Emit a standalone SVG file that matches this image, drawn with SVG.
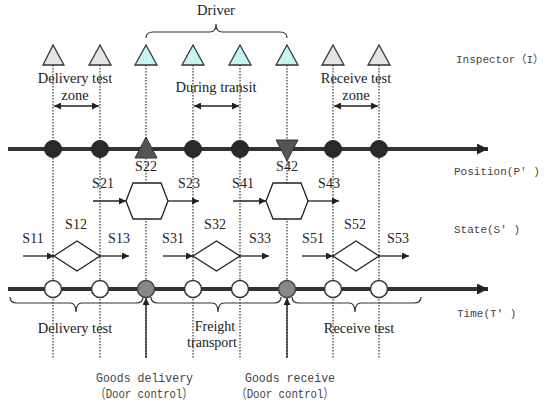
<svg xmlns="http://www.w3.org/2000/svg" width="550" height="408" viewBox="0 0 550 408">
<defs>
<style>
.ser{font-family:"Liberation Serif","Times New Roman",serif;font-size:14.5px;fill:#222}
.s{font-family:"Liberation Serif","Times New Roman",serif;font-size:14px;fill:#222}
.mono{font-family:"Liberation Mono","Noto Sans CJK SC",monospace;font-size:13.5px;fill:#444}
.lab{font-family:"Liberation Mono","Noto Sans CJK SC",monospace;font-size:11px;fill:#444}
.dot{stroke:#333;stroke-width:1.2;stroke-dasharray:1.5 1.5;fill:none}
.axis{stroke:#333;stroke-width:4;fill:none}
.thin{stroke:#222;stroke-width:1.3;fill:none}
.brace{stroke:#333;stroke-width:1.2;fill:none}
.tg{fill:#e3e3e3;stroke:#333;stroke-width:1.3}
.tc{fill:#c4f4f4;stroke:#333;stroke-width:1.3}
.pc{fill:#2a2a2a;stroke:#222}
.oc{fill:#fff;stroke:#333;stroke-width:1.5}
.gc{fill:#888;stroke:#444;stroke-width:1.5}
.shape{fill:#fff;stroke:#222;stroke-width:1.3}
</style>
<marker id="ah" viewBox="0 0 10 10" refX="10" refY="5" markerWidth="8" markerHeight="7" markerUnits="userSpaceOnUse" orient="auto-start-reverse">
<path d="M0,0 L10,5 L0,10 z" fill="#222"/>
</marker>
<marker id="big" viewBox="0 0 10 10" refX="10" refY="5" markerWidth="14" markerHeight="11" markerUnits="userSpaceOnUse" orient="auto">
<path d="M0,0 L10,5 L0,10 z" fill="#222"/>
</marker>
</defs>

<g id="guides">
<line class="dot" x1="53" y1="65" x2="53" y2="358"/>
<line class="dot" x1="100" y1="65" x2="100" y2="358"/>
<line class="dot" x1="146" y1="65" x2="146" y2="358"/>
<line class="dot" x1="193" y1="65" x2="193" y2="358"/>
<line class="dot" x1="240" y1="65" x2="240" y2="358"/>
<line class="dot" x1="287" y1="65" x2="287" y2="358"/>
<line class="dot" x1="333" y1="65" x2="333" y2="358"/>
<line class="dot" x1="379" y1="65" x2="379" y2="358"/>
</g>

<g id="connectors">
<line class="axis" x1="8" y1="149" x2="488" y2="149" marker-end="url(#big)"/>
<line class="axis" x1="8" y1="289" x2="488" y2="289" marker-end="url(#big)"/>
<line class="thin" x1="54" y1="106" x2="99" y2="106" marker-start="url(#ah)" marker-end="url(#ah)"/>
<line class="thin" x1="194" y1="106" x2="239" y2="106" marker-start="url(#ah)" marker-end="url(#ah)"/>
<line class="thin" x1="334" y1="106" x2="378" y2="106" marker-start="url(#ah)" marker-end="url(#ah)"/>
<line class="thin" x1="93" y1="201" x2="126" y2="201" marker-end="url(#ah)"/>
<line class="thin" x1="168" y1="201" x2="199" y2="201" marker-end="url(#ah)"/>
<line class="thin" x1="233" y1="201" x2="266" y2="201" marker-end="url(#ah)"/>
<line class="thin" x1="308" y1="201" x2="339" y2="201" marker-end="url(#ah)"/>
<line class="thin" x1="23" y1="256" x2="54" y2="256" marker-end="url(#ah)"/>
<line class="thin" x1="100" y1="256" x2="129" y2="256" marker-end="url(#ah)"/>
<line class="thin" x1="163" y1="256" x2="193" y2="256" marker-end="url(#ah)"/>
<line class="thin" x1="240" y1="256" x2="269" y2="256" marker-end="url(#ah)"/>
<line class="thin" x1="302" y1="256" x2="333" y2="256" marker-end="url(#ah)"/>
<line class="thin" x1="379" y1="256" x2="409" y2="256" marker-end="url(#ah)"/>
<line class="thin" x1="146" y1="358" x2="146" y2="298" marker-end="url(#ah)"/>
<line class="thin" x1="287" y1="358" x2="287" y2="298" marker-end="url(#ah)"/>
<path class="brace" d="M146,38 Q146,32 153,32 L210,32 Q216,32 216,24 Q216,32 222,32 L280,32 Q287,32 287,38"/>
<path class="brace" d="M10,297 Q10,303 17,303 L70,303 Q76,303 76,312 Q76,303 82,303 L136,303 Q143,303 143,297"/>
<path class="brace" d="M151,297 Q151,303 158,303 L212,303 Q218,303 218,312 Q218,303 224,303 L274,303 Q281,303 281,297"/>
<path class="brace" d="M292,297 Q292,303 299,303 L349,303 Q355,303 355,312 Q355,303 361,303 L414,303 Q421,303 421,297"/>
</g>

<g id="inspector-triangles">
<polygon class="tg" points="53,45 43,65 64,65"/>
<polygon class="tg" points="100,45 89,65 111,65"/>
<polygon class="tc" points="146,45 135,65 157,65"/>
<polygon class="tc" points="193,45 182,65 204,65"/>
<polygon class="tc" points="240,45 229,65 251,65"/>
<polygon class="tc" points="287,45 276,65 298,65"/>
<polygon class="tg" points="333,45 322,65 344,65"/>
<polygon class="tg" points="379,45 368,65 390,65"/>
</g>

<g id="position-nodes">
<circle class="pc" cx="53" cy="149" r="8.5"/>
<circle class="pc" cx="100" cy="149" r="8.5"/>
<circle class="pc" cx="193" cy="149" r="8.5"/>
<circle class="pc" cx="240" cy="149" r="8.5"/>
<circle class="pc" cx="333" cy="149" r="8.5"/>
<circle class="pc" cx="379" cy="149" r="8.5"/>
<polygon points="146,137 135,158 157,158" fill="#555" stroke="#333"/>
<polygon points="276,140 298,140 287,161" fill="#555" stroke="#333"/>
</g>

<g id="state-hex-1"><polygon class="shape" points="126,201 133,183 161,183 168,201 161,219 133,219"/></g>
<g id="state-hex-2"><polygon class="shape" points="266,201 273,183 301,183 308,201 301,219 273,219"/></g>
<g id="state-diamond-1"><polygon class="shape" points="54,256 77,241 100,256 77,271"/></g>
<g id="state-diamond-2"><polygon class="shape" points="193,256 216.5,241 240,256 216.5,271"/></g>
<g id="state-diamond-3"><polygon class="shape" points="333,256 356,241 379,256 356,271"/></g>

<g id="time-nodes">
<circle class="oc" cx="53" cy="289" r="8.5"/>
<circle class="oc" cx="100" cy="289" r="8.5"/>
<circle class="gc" cx="146" cy="289" r="8.5"/>
<circle class="oc" cx="193" cy="289" r="8.5"/>
<circle class="oc" cx="240" cy="289" r="8.5"/>
<circle class="gc" cx="287" cy="289" r="8.5"/>
<circle class="oc" cx="333" cy="289" r="8.5"/>
<circle class="oc" cx="379" cy="289" r="8.5"/>
</g>

<g id="labels">
<text class="ser" x="216" y="15" text-anchor="middle">Driver</text>
<text class="ser" x="75" y="83" text-anchor="middle">Delivery test</text>
<text class="ser" x="75" y="100" text-anchor="middle">zone</text>
<text class="ser" x="216" y="92" text-anchor="middle">During transit</text>
<text class="ser" x="356" y="83" text-anchor="middle">Receive test</text>
<text class="ser" x="356" y="100" text-anchor="middle">zone</text>
<text class="s" x="146" y="171" text-anchor="middle">S22</text>
<text class="s" x="103" y="188" text-anchor="middle">S21</text>
<text class="s" x="189" y="188" text-anchor="middle">S23</text>
<text class="s" x="243" y="188" text-anchor="middle">S41</text>
<text class="s" x="287" y="171" text-anchor="middle">S42</text>
<text class="s" x="329" y="188" text-anchor="middle">S43</text>
<text class="s" x="33" y="243" text-anchor="middle">S11</text>
<text class="s" x="76" y="229" text-anchor="middle">S12</text>
<text class="s" x="119" y="243" text-anchor="middle">S13</text>
<text class="s" x="173" y="243" text-anchor="middle">S31</text>
<text class="s" x="215" y="229" text-anchor="middle">S32</text>
<text class="s" x="260" y="243" text-anchor="middle">S33</text>
<text class="s" x="313" y="243" text-anchor="middle">S51</text>
<text class="s" x="355" y="229" text-anchor="middle">S52</text>
<text class="s" x="398" y="243" text-anchor="middle">S53</text>
<text class="ser" x="75" y="333" text-anchor="middle">Delivery test</text>
<text class="s" x="215" y="331" text-anchor="middle">Freight</text>
<text class="s" x="212" y="347" text-anchor="middle">transport</text>
<text class="ser" x="359" y="333" text-anchor="middle">Receive test</text>
<text class="mono" x="96" y="382" textLength="97" lengthAdjust="spacingAndGlyphs">Goods delivery</text>
<text class="mono" x="95" y="398" textLength="98" lengthAdjust="spacingAndGlyphs">（Door control）</text>
<text class="mono" x="245" y="382" textLength="90" lengthAdjust="spacingAndGlyphs">Goods receive</text>
<text class="mono" x="236" y="398" textLength="98" lengthAdjust="spacingAndGlyphs">（Door control）</text>
<text class="lab" x="456" y="63">Inspector（I）</text>
<text class="lab" x="454" y="175">Position(P′ )</text>
<text class="lab" x="454" y="233">State(S′ )</text>
<text class="lab" x="457" y="317">Time(T′ )</text>
</g>
</svg>
